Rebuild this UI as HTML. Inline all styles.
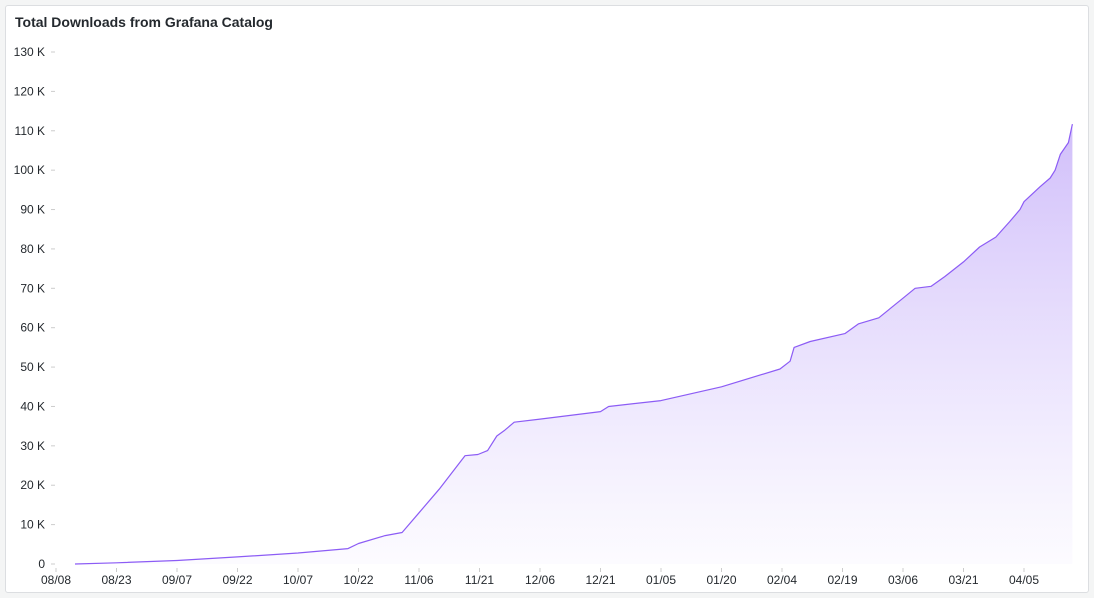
<!DOCTYPE html>
<html><head><meta charset="utf-8"><style>
body{margin:0;background:#f4f5f5;font-family:"Liberation Sans",sans-serif;}
#panel{position:absolute;left:5px;top:5px;width:1082px;height:586px;background:#fff;border:1px solid #dcdee1;border-radius:3px;}
#title{position:absolute;left:9px;top:8px;font-size:14px;font-weight:bold;color:#24292e;}
svg{position:absolute;left:0;top:0;}
text{font-family:"Liberation Sans",sans-serif;font-size:12px;fill:#24292e;}
</style></head><body>
<div id="panel">
<div id="title">Total Downloads from Grafana Catalog</div>
</div>
<svg id="chart" width="1094" height="598">
<defs><linearGradient id="g" x1="0" y1="0" x2="0" y2="1">
<stop offset="0" stop-color="#b89cf7" stop-opacity="0.65"/><stop offset="1" stop-color="#c8b4fb" stop-opacity="0.05"/></linearGradient></defs>
</svg>
<script>
const xTickLabels=["08/08","08/23","09/07","09/22","10/07","10/22","11/06","11/21","12/06","12/21","01/05","01/20","02/04","02/19","03/06","03/21","04/05"];
const yTicks=[0,10,20,30,40,50,60,70,80,90,100,110,120,130];
const days=[4.7,15,30,45,60,72.4,75,81.6,85.8,90,95,101.4,104.6,107,109.3,111.3,113.6,120,135,137,150,165,179.5,182,183,187,195.6,199,204,210,213,217,220.4,225,229,233,236.5,239,240,244,246.5,247.7,249,251,252];
const values=[0,0.3,0.9,1.8,2.8,3.9,5.2,7.2,8,13,19,27.5,27.8,28.8,32.5,34,36,36.8,38.7,40,41.5,45,49.5,51.5,55,56.5,58.5,61,62.5,67.5,70,70.5,73,76.7,80.5,83,87,90,92,95.8,98,100,104,107,111.7];
const NS="http://www.w3.org/2000/svg";
const svg=document.getElementById('chart');
const x=d=>56+d*60.5/15, y=v=>564-v*(512/130);
function mk(t,a){const e=document.createElementNS(NS,t);for(const k in a)e.setAttribute(k,a[k]);svg.appendChild(e);return e;}
yTicks.forEach(v=>{
 const t=mk('text',{x:45,y:y(v)+4,'text-anchor':'end'});t.textContent=v===0?'0':v+' K';
 
 
 mk('line',{x1:51,x2:55,y1:y(v),y2:y(v),stroke:'#ccc'});
});
xTickLabels.forEach((l,i)=>{
 const t=mk('text',{x:x(i*15),y:584,'text-anchor':'middle'});t.textContent=l;
 
 
 mk('line',{x1:x(i*15),x2:x(i*15),y1:568,y2:572,stroke:'#ccc'});
});
const d='M'+days.map((dd,i)=>x(dd).toFixed(1)+','+y(values[i]).toFixed(1)).join('L');
const area=mk('path',{d:d+'L'+x(days[days.length-1])+','+y(0)+'L'+x(days[0])+','+y(0)+'Z',fill:'url(#g)'});


const line=mk('path',{d:d,fill:'none',stroke:'#8c5cf5','stroke-width':1.2,'stroke-linejoin':'round'});


</script>
</body></html>
